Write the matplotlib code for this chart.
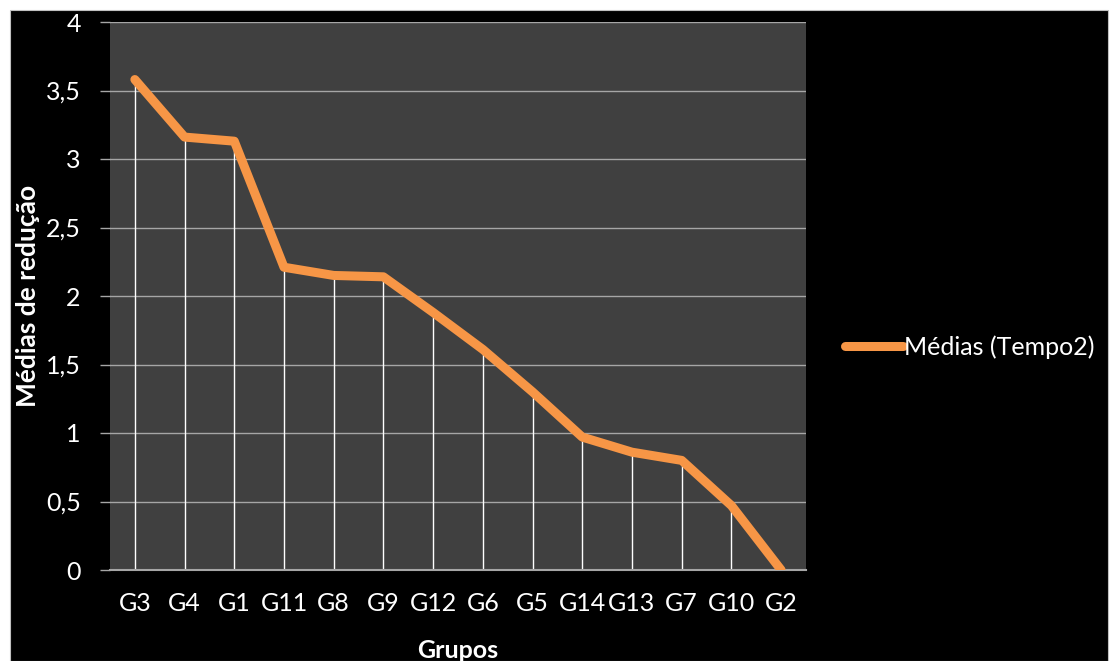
import numpy as np
import matplotlib.pyplot as plt
from matplotlib.patches import Rectangle

grupos = ['G3', 'G4', 'G1', 'G11', 'G8', 'G9', 'G12', 'G6', 'G5', 'G14', 'G13', 'G7', 'G10', 'G2']
medias = [3.58, 3.16, 3.13, 2.21, 2.15, 2.14, 1.88, 1.61, 1.30, 0.97, 0.86, 0.80, 0.47, 0.0]
y_ticks = [0, 0.5, 1, 1.5, 2, 2.5, 3, 3.5, 4]
y_labels = ['0', '0,5', '1', '1,5', '2', '2,5', '3', '3,5', '4']

plt.rcParams['font.family'] = ['Lato', 'DejaVu Sans']

W, H = 1110, 661
fig = plt.figure(figsize=(W / 100, H / 100), dpi=100, facecolor='white')
# black chart area inside a thin white margin
fig.patches.append(Rectangle((10 / W, 0), 1098 / W, 651 / H, transform=fig.transFigure,
                             facecolor='black', edgecolor='#c0c0c0', lw=0.8, zorder=-10))

ax = fig.add_axes([110 / W, 1 - 570 / H, 696 / W, 548 / H])
ax.set_facecolor('#404040')

x = np.arange(len(grupos)) + 0.5
ax.set_xlim(0, len(grupos))
ax.set_ylim(0, 4)

for yv in y_ticks[1:]:
    ax.axhline(yv, color='#a6a6a6', lw=1, zorder=1)

ax.vlines(x, 0, medias, color='white', lw=1, zorder=2)
ax.plot(x, medias, color='#f79646', lw=6.5, solid_capstyle='round', solid_joinstyle='round',
        zorder=3, label='Médias (Tempo2)')

ax.set_xticks(x)
ax.set_xticklabels(grupos)
ax.set_yticks(y_ticks)
ax.set_yticklabels(y_labels)
ax.tick_params(axis='x', length=0, colors='white', labelsize=18, pad=16)
ax.tick_params(axis='y', length=7, width=1, color='#a6a6a6', labelcolor='white',
               labelsize=18, pad=14)
for s in ['top', 'right', 'left']:
    ax.spines[s].set_visible(False)
ax.spines['bottom'].set_color('#a6a6a6')
ax.spines['bottom'].set_linewidth(1.5)

fig.text(28 / W, 1 - 296 / H, 'Médias de redução', rotation=90, color='white',
         fontsize=19, fontweight='bold', ha='center', va='center')
fig.text(458 / W, 1 - 651 / H, 'Grupos', color='white', fontsize=18,
         fontweight='bold', ha='center', va='center')

leg = ax.legend(loc='center left', bbox_to_anchor=(845 / W, 1 - 347 / H),
                bbox_transform=fig.transFigure, frameon=False, fontsize=18,
                handlelength=2.3, handletextpad=0.05, borderaxespad=0, borderpad=0)
for t in leg.get_texts():
    t.set_color('white')

fig.savefig('out.png', dpi=100, facecolor='white')
